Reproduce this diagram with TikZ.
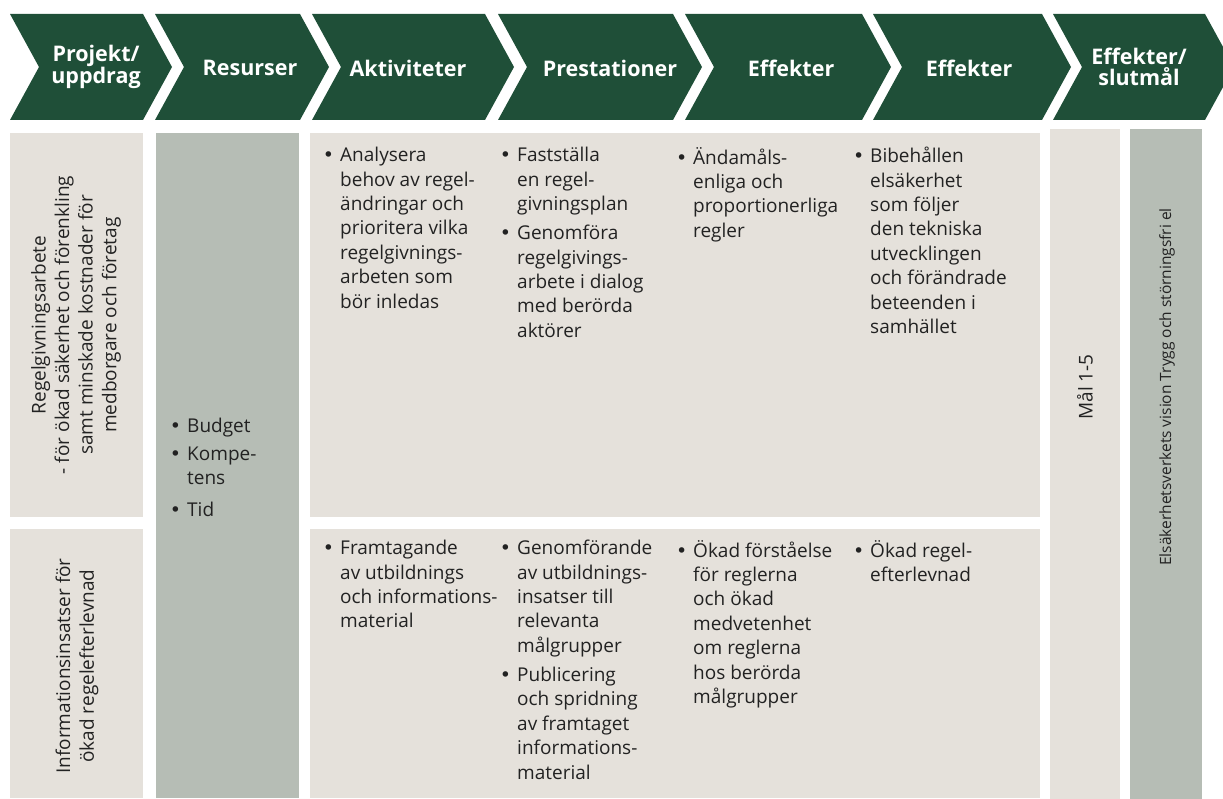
\documentclass[tikz,border=0pt]{standalone}
\usepackage{fontspec}
\setmainfont{Open Sans}
\newfontfamily\bulfont{DejaVu Sans}
\usetikzlibrary{positioning}

\definecolor{hdrgreen}{HTML}{1F4F38}
\definecolor{boxbeige}{HTML}{E5E1DB}
\definecolor{boxsage}{HTML}{B6BDB5}
\definecolor{txtdark}{HTML}{222222}

\newcommand{\bul}{\llap{{\bulfont\textbullet}\hspace{6pt}}}

\begin{document}
\begin{tikzpicture}[x=1pt,y=-1pt,
    chevfill/.style={fill=hdrgreen},
    hdrtext/.style={text=white,font=\bfseries\fontsize{21.5}{21}\selectfont,align=center,inner sep=0pt},
    item/.style={anchor=north west,align=left,inner sep=0pt,text=txtdark,
      font=\fontsize{19}{24.4}\selectfont,
      execute at begin node=\strut,execute at end node=\strut},
    sidetext/.style={rotate=90,align=center,inner sep=0pt,text=txtdark,
      font=\fontsize{19}{23.6}\selectfont}]
    \clip (0,0) rectangle (1223,799);

    % Header chevrons
    \fill[chevfill] (10,14) -- (143,14) -- (172,67) -- (143,120) -- (10,120) -- (39,67) -- cycle;
    \fill[chevfill] (155,14) -- (300,14) -- (329,67) -- (300,120) -- (155,120) -- (184,67) -- cycle;
    \fill[chevfill] (312,14) -- (485,14) -- (514,67) -- (485,120) -- (312,120) -- (341,67) -- cycle;
    \fill[chevfill] (498,14) -- (673,14) -- (702,67) -- (673,120) -- (498,120) -- (527,67) -- cycle;
    \fill[chevfill] (685,14) -- (862,14) -- (891,67) -- (862,120) -- (685,120) -- (714,67) -- cycle;
    \fill[chevfill] (873,14) -- (1042,14) -- (1071,67) -- (1042,120) -- (873,120) -- (902,67) -- cycle;
    \fill[chevfill] (1053,14) -- (1205,14) -- (1234,67) -- (1205,120) -- (1053,120) -- (1082,67) -- cycle;

    \node[hdrtext] (h1) at (96,67) {Projekt/\\uppdrag};
    \node[hdrtext] (h2) at (250,68) {Resurser};
    \node[hdrtext] (h3) at (408,68) {Aktiviteter};
    \node[hdrtext] (h4) at (610,68) {Prestationer};
    \node[hdrtext] (h5) at (791,68) {Effekter};
    \node[hdrtext] (h6) at (969,68) {Effekter};
    \node[hdrtext] (h7) at (1139,67) {Effekter/\\slutmål};

    % Boxes
    \fill[boxbeige] (10,133) rectangle (143,517);
    \fill[boxbeige] (10,529) rectangle (143,798);
    \fill[boxsage] (156,133) rectangle (299,798);
    \fill[boxbeige] (310,133) rectangle (1040,517);
    \fill[boxbeige] (310,529) rectangle (1040,798);
    \fill[boxbeige] (1050,129) rectangle (1120,799);
    \fill[boxsage] (1130,129) rectangle (1202,799);

    % Projects
    \node[sidetext] (p1) at (76,325) {Regelgivningsarbete\\- för ökad säkerhet och förenkling\\samt minskade kostnader för\\medborgare och företag};
    \node[sidetext] (p2) at (77,666) {Informationsinsatser för\\ökad regelefterlevnad};

    % Resources
    \node[item] (r1) at (187,415) {\bul Budget};
    \node[item,below=7pt of r1.south west,anchor=north west] (r2) {\bul Kompe-\\tens};
    \node[item,below=7pt of r2.south west,anchor=north west] (r3) {\bul Tid};

    % Row 1
    \node[item] (a1) at (340,147) {\bul Analysera\\behov av regel-\\ändringar och\\prioritera vilka\\regelgivnings-\\arbeten som\\bör inledas};
    \node[item] (b1) at (517,147) {\bul Fastställa\\en regel-\\givningsplan};
    \node[item,below=7pt of b1.south west,anchor=north west] (b2) {\bul Genomföra\\regelgivings-\\arbete i dialog\\med berörda\\aktörer};
    \node[item] (c1) at (693,147) {\bul Ändamåls-\\enliga och\\proportionerliga\\regler};
    \node[item] (d1) at (870,147) {\bul Bibehållen\\elsäkerhet\\som följer\\den tekniska\\utvecklingen\\och förändrade\\beteenden i\\samhället};

    % Row 2
    \node[item] (a2) at (340,540) {\bul Framtagande\\av utbildnings\\och informations-\\material};
    \node[item] (b3) at (517,540) {\bul Genomförande\\av utbildnings-\\insatser till\\relevanta\\målgrupper};
    \node[item,below=7pt of b3.south west,anchor=north west] (b4) {\bul Publicering\\och spridning\\av framtaget\\informations-\\material};
    \node[item] (c2) at (693,540) {\bul Ökad förståelse\\för reglerna\\och ökad\\medvetenhet\\om reglerna\\hos berörda\\målgrupper};
    \node[item] (d2) at (870,540) {\bul Ökad regel-\\efterlevnad};

    % Goals and vision
    \node[sidetext] (goal) at (1085,387) {Mål 1-5};
    \node[sidetext,font=\fontsize{15.5}{18}\selectfont] (vision) at (1167,387) {Elsäkerhetsverkets vision Trygg och störningsfri el};
\end{tikzpicture}
\end{document}
